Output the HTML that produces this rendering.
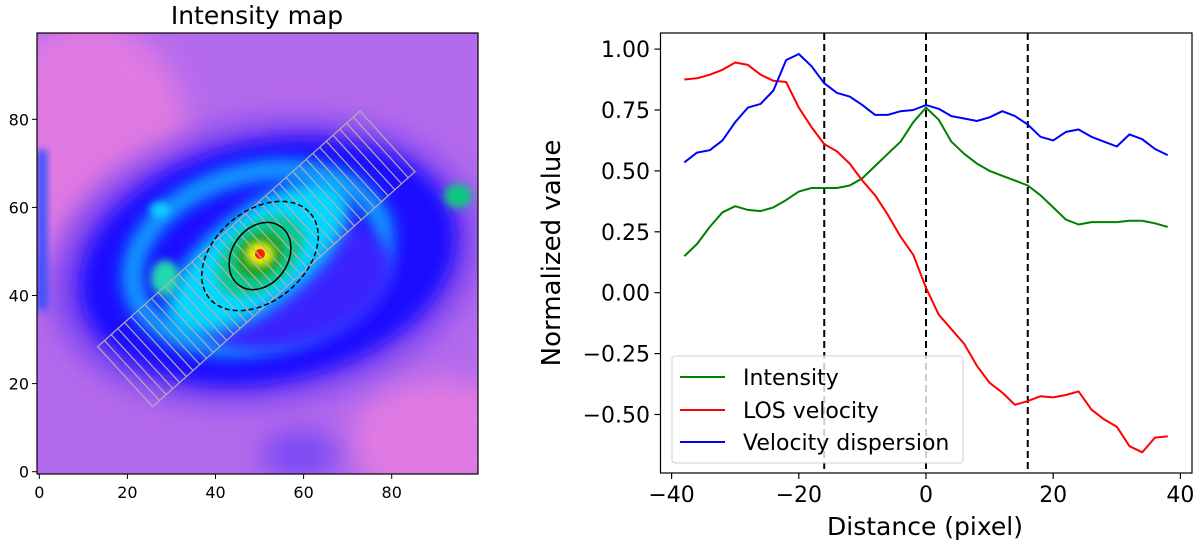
<!DOCTYPE html>
<html><head><meta charset="utf-8">
<style>
html,body{margin:0;padding:0;background:#fff;}
svg{display:block;font-family:"DejaVu Sans","Liberation Sans",sans-serif;}
</style></head>
<body>
<svg id="fig" width="1200" height="546" viewBox="0 0 1200 546" xmlns="http://www.w3.org/2000/svg">
<defs>
<clipPath id="imgclip"><rect x="37" y="33" width="441" height="441"/></clipPath>
<filter id="b8" x="-50%" y="-50%" width="200%" height="200%"><feGaussianBlur stdDeviation="8"/></filter>
<filter id="b14" x="-50%" y="-50%" width="200%" height="200%"><feGaussianBlur stdDeviation="14"/></filter>
<filter id="b4" x="-50%" y="-50%" width="200%" height="200%"><feGaussianBlur stdDeviation="4"/></filter>
</defs>

<g>
<text x="257" y="24" text-anchor="middle" font-size="25">Intensity map</text>
<g clip-path="url(#imgclip)">
  <rect x="37" y="33" width="441" height="441" fill="#b46aec"/>
  <ellipse cx="90" cy="150" rx="100" ry="130" fill="#e07ae2" filter="url(#b14)"/>
  <ellipse cx="440" cy="440" rx="90" ry="60" fill="#e07ae2" filter="url(#b14)"/>
  <ellipse cx="300" cy="455" rx="40" ry="25" fill="#7a48f4" filter="url(#b14)"/>
  <ellipse cx="265" cy="262" rx="215" ry="140" transform="rotate(-10 265 262)" fill="#7440f2" filter="url(#b14)"/>
  <ellipse cx="268" cy="262" rx="190" ry="120" transform="rotate(-12 268 262)" fill="#1c10ff" filter="url(#b8)"/>
  <rect x="37" y="150" width="10" height="160" fill="#3050ff" filter="url(#b4)"/>
  <ellipse cx="258" cy="258" rx="128" ry="85" transform="rotate(-15 258 258)" fill="none" stroke="#10a8ff" stroke-width="20" filter="url(#b8)"/>
  <ellipse cx="290" cy="285" rx="105" ry="62" transform="rotate(-15 290 285)" fill="#3a22ff" filter="url(#b8)"/>
  <ellipse cx="258" cy="258" rx="110" ry="48" transform="rotate(-38 258 258)" fill="#00d8ff" filter="url(#b8)"/>
  <ellipse cx="260" cy="256" rx="50" ry="32" transform="rotate(-40 260 256)" fill="#10c890" filter="url(#b4)"/>
  <ellipse cx="260" cy="255" rx="26" ry="20" transform="rotate(-40 260 255)" fill="#1aa020" filter="url(#b4)"/>
  <ellipse cx="260" cy="254" rx="14" ry="12" fill="#f0f000" filter="url(#b4)"/>
  <ellipse cx="260" cy="254" rx="5" ry="5" fill="#ff2000"/>
  <ellipse cx="165" cy="278" rx="14" ry="18" fill="#20d8b0" filter="url(#b4)"/>
  <ellipse cx="458" cy="196" rx="14" ry="12" fill="#10c880" filter="url(#b4)"/>
  <ellipse cx="160" cy="210" rx="10" ry="8" fill="#10d0ff" filter="url(#b4)"/>
</g>
<rect x="37" y="33" width="441" height="441" fill="none" stroke="#000" stroke-width="1.2"/>
<g id="slitgroup" fill="none" stroke="#b0b0b0" stroke-width="1.2"></g>
<ellipse cx="260" cy="256" rx="36" ry="28" transform="rotate(-55 260 256)" fill="none" stroke="#000" stroke-width="1.5"/>
<ellipse cx="260" cy="256" rx="66" ry="45" transform="rotate(-40 260 256)" fill="none" stroke="#000" stroke-width="1.5" stroke-dasharray="5,3"/>
<g id="leftticks" font-size="16"></g>
</g>

<g>
<g id="plot"></g>
<rect x="660.5" y="33" width="531.5" height="440" fill="none" stroke="#000" stroke-width="1.2"/>
<g id="ticks" font-size="22"></g>
<text x="925" y="535" text-anchor="middle" font-size="25">Distance (pixel)</text>
<text transform="translate(560 253) rotate(-90)" text-anchor="middle" font-size="26">Normalized value</text>
<g>
  <rect x="672" y="356" width="291" height="107" rx="3" fill="#fff" fill-opacity="0.8" stroke="#d0d0d0"/>
  <line x1="680" y1="377" x2="725" y2="377" stroke="#008000" stroke-width="2"/>
  <text x="743" y="385" font-size="22">Intensity</text>
  <line x1="680" y1="410" x2="725" y2="410" stroke="#ff0000" stroke-width="2"/>
  <text x="743" y="418" font-size="22">LOS velocity</text>
  <line x1="680" y1="442" x2="725" y2="442" stroke="#0000ff" stroke-width="2"/>
  <text x="743" y="450" font-size="22">Velocity dispersion</text>
</g>
</g>
</svg>
<script>
const distances = [-38,-36,-34,-32,-30,-28,-26,-24,-22,-20,-18,-16,-14,-12,-10,-8,-6,-4,-2,0,2,4,6,8,10,12,14,16,18,20,22,24,26,28,30,32,34,36,38];
const intensity = [0.15,0.20,0.27,0.33,0.355,0.34,0.335,0.35,0.38,0.415,0.43,0.43,0.43,0.44,0.47,0.52,0.57,0.62,0.70,0.76,0.71,0.62,0.57,0.53,0.50,0.48,0.46,0.44,0.40,0.35,0.30,0.28,0.29,0.29,0.29,0.295,0.295,0.285,0.27];
const losVelocity = [0.875,0.88,0.895,0.915,0.945,0.935,0.895,0.87,0.865,0.76,0.68,0.61,0.58,0.53,0.46,0.40,0.32,0.23,0.155,0.02,-0.09,-0.15,-0.21,-0.30,-0.37,-0.41,-0.46,-0.445,-0.425,-0.43,-0.42,-0.405,-0.48,-0.52,-0.55,-0.63,-0.655,-0.595,-0.59];
const velDispersion = [0.535,0.575,0.585,0.625,0.70,0.76,0.775,0.83,0.955,0.98,0.93,0.86,0.82,0.805,0.77,0.73,0.73,0.745,0.75,0.77,0.755,0.725,0.715,0.705,0.72,0.745,0.725,0.69,0.64,0.625,0.66,0.67,0.64,0.62,0.60,0.65,0.63,0.59,0.565];
const xTicks = [-40,-20,0,20,40];
const yTicks = [1.00,0.75,0.50,0.25,0.00,-0.25,-0.50];
const vLines = [-16,0,16];
const imgTicks = [0,20,40,60,80];

const NS = "http://www.w3.org/2000/svg";
function X(v){return 926 + v*6.36;}
function Y(v){return 292.7 - v*243.6;}
function mk(tag, attrs, parent){const e=document.createElementNS(NS,tag);for(const k in attrs)e.setAttribute(k,attrs[k]);parent.appendChild(e);return e;}
function fmtNum(v,d){const s=Math.abs(v).toFixed(d);return (v<0?"\u2212":"")+s;}

const plot=document.getElementById('plot');
vLines.forEach(v=>{
  const l=mk('line',{x1:X(v),x2:X(v),y1:33,y2:473,stroke:'#000','stroke-width':2,'stroke-dasharray':'7,4'},plot);
  
  
});
function series(vals,color){
  const pts=distances.map((d,i)=>X(d).toFixed(1)+','+Y(vals[i]).toFixed(1)).join(' ');
  return mk('polyline',{points:pts,fill:'none',stroke:color,'stroke-width':2,'stroke-linejoin':'round'},plot);
}
const s1=series(intensity,'#008000');


const s2=series(losVelocity,'#ff0000');


const s3=series(velDispersion,'#0000ff');



const ticks=document.getElementById('ticks');


xTicks.forEach(v=>{
  mk('line',{x1:X(v),x2:X(v),y1:473,y2:479,stroke:'#000','stroke-width':1.2},ticks);
  const t=mk('text',{x:X(v),y:502,'text-anchor':'middle'},ticks);
  t.textContent=fmtNum(v,0);
  
  
});
yTicks.forEach(v=>{
  mk('line',{x1:654.5,x2:660.5,y1:Y(v),y2:Y(v),stroke:'#000','stroke-width':1.2},ticks);
  const t=mk('text',{x:650,y:Y(v)+8,'text-anchor':'end'},ticks);
  t.textContent=fmtNum(v,2);
  
  
});

function IX(v){return 39.3+v*4.405;}
function IY(v){return 471.7-v*4.405;}
const lt=document.getElementById('leftticks');
imgTicks.forEach(v=>{
  mk('line',{x1:IX(v),x2:IX(v),y1:474,y2:479,stroke:'#000'},lt);
  const t=mk('text',{x:IX(v),y:498,'text-anchor':'middle'},lt);
  t.textContent=String(v);
  
  
  mk('line',{x1:32,x2:37,y1:IY(v),y2:IY(v),stroke:'#000'},lt);
  const t2=mk('text',{x:29,y:IY(v)+6,'text-anchor':'end'},lt);
  t2.textContent=String(v);
  
  
});

const A=[97.7,346.7],B=[152.7,406.7],C=[415,171.7],D=[360,111];
const sg=document.getElementById('slitgroup');
mk('polygon',{points:[A,B,C,D].map(p=>p.join(',')).join(' ')},sg);
const nStrips=distances.length;
for(let i=1;i<nStrips;i++){
  const f=i/nStrips;
  const p1=[A[0]+(D[0]-A[0])*f,A[1]+(D[1]-A[1])*f];
  const p2=[B[0]+(C[0]-B[0])*f,B[1]+(C[1]-B[1])*f];
  const l=mk('line',{x1:p1[0],y1:p1[1],x2:p2[0],y2:p2[1]},sg);
  
  
}
</script>
</body></html>
